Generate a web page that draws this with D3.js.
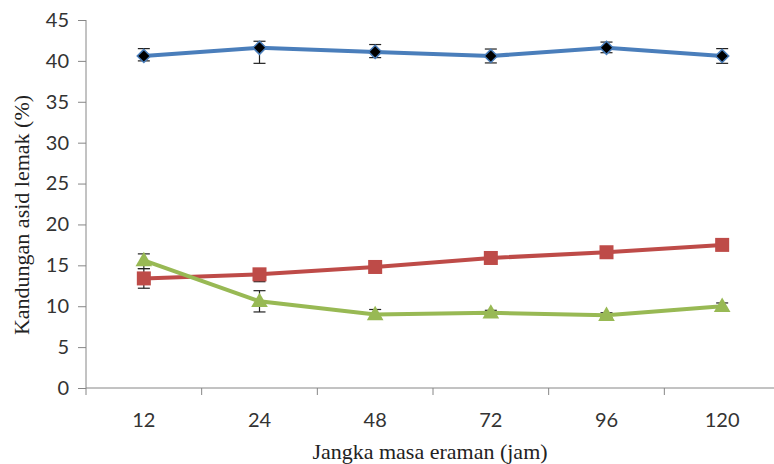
<!DOCTYPE html>
<html>
<head>
<meta charset="utf-8">
<script src="https://cdn.jsdelivr.net/npm/d3@7"></script>
<style>
  html, body { margin: 0; padding: 0; background: #fff; }
  svg { display: block; }
  .tick-label { font-family: Lato, "Open Sans", sans-serif; font-size: 20px; fill: #333; }
  .axis-title { font-family: "Times New Roman", "Liberation Serif", Tinos, "DejaVu Serif", "Noto Serif", serif; font-size: 22px; fill: #222; }
</style>
</head>
<body>
<svg id="chart" width="774" height="464"></svg>
<script>
// Incubation period categories (hours)
const categories = ["12", "24", "48", "72", "96", "120"];

// Fatty acid content (%) per series
const seriesA = [40.6, 41.6, 41.1, 40.6, 41.6, 40.6];
const seriesB = [13.4, 13.9, 14.8, 15.9, 16.6, 17.5];
const seriesC = [15.6, 10.6, 9.0, 9.2, 8.9, 10.0];

// Error amounts (upper / lower)
const errA_up = [0.9, 0.8, 0.9, 0.85, 0.7, 0.9];
const errA_dn = [0.6, 1.9, 0.7, 0.85, 0.6, 0.9];
const errB_up = [1.2, 0.3, 0.3, 0.3, 0.3, 0.3];
const errB_dn = [1.2, 0.9, 0.3, 0.3, 0.3, 0.3];
const errC_up = [0.8, 1.3, 0.6, 0.3, 0.3, 0.4];
const errC_dn = [1.0, 1.3, 0.4, 0.3, 0.3, 0.4];

const yTicks = [0, 5, 10, 15, 20, 25, 30, 35, 40, 45];

const svg = d3.select("#chart");
const plotLeft = 86, plotRight = 780, plotTop = 20, plotBottom = 388;

const x = d3.scaleBand().domain(categories).range([plotLeft, plotRight]);
const y = d3.scaleLinear().domain([0, 45]).range([plotBottom, plotTop]);
const cx = d => x(d) + x.bandwidth() / 2;

const axisColor = "#868686";

// Y axis
const yAxis = svg.append("g")
  .attr("transform", `translate(${plotLeft},0)`)
  .call(d3.axisLeft(y).tickValues(yTicks).tickSize(8).tickPadding(9).tickFormat(d3.format("d")));
yAxis.attr("font-family", null).attr("font-size", null);
yAxis.select(".domain").attr("stroke", axisColor).attr("d", `M0,${plotTop}V${plotBottom}`);
yAxis.selectAll(".tick line").attr("stroke", axisColor);
yAxis.selectAll(".tick text").attr("class", "tick-label").attr("fill", null);

// X axis: ticks at band boundaries, labels at band centres
const xg = svg.append("g").attr("transform", `translate(0,${plotBottom})`);
xg.append("line").attr("x1", plotLeft).attr("x2", plotRight).attr("y1", 0).attr("y2", 0)
  .attr("stroke", axisColor);
const bounds = categories.map(c => x(c)).concat([plotRight]);
xg.selectAll("line.tk").data(bounds).join("line")
  .attr("class", "tk")
  .attr("x1", d => d).attr("x2", d => d).attr("y1", 0).attr("y2", 7)
  .attr("stroke", axisColor);
xg.selectAll("text").data(categories).join("text")
  .attr("class", "tick-label")
  .attr("x", d => cx(d)).attr("y", 39)
  .attr("text-anchor", "middle")
  .text(d => d);

// Axis titles
svg.append("text")
  .attr("class", "axis-title")
  .attr("x", 430).attr("y", 459)
  .attr("text-anchor", "middle")
  .text("Jangka masa eraman (jam)");

svg.append("text")
  .attr("class", "axis-title")
  .attr("transform", "translate(29,215) rotate(-90)")
  .attr("text-anchor", "middle")
  .text("Kandungan asid lemak (%)");

const line = d3.line().x((d, i) => cx(categories[i])).y(d => y(d));

function errorBars(vals, up, dn) {
  const g = svg.append("g").attr("stroke", "#222").attr("stroke-width", 1.2);
  vals.forEach((v, i) => {
    const px = cx(categories[i]);
    const y1 = y(v + up[i]), y2 = y(v - dn[i]);
    g.append("line").attr("x1", px).attr("x2", px).attr("y1", y1).attr("y2", y2);
    g.append("line").attr("x1", px - 6).attr("x2", px + 6).attr("y1", y1).attr("y2", y1);
    g.append("line").attr("x1", px - 6).attr("x2", px + 6).attr("y1", y2).attr("y2", y2);
  });
}

// Series A (blue, diamond markers)
errorBars(seriesA, errA_up, errA_dn);
svg.append("path").datum(seriesA).attr("d", line)
  .attr("fill", "none").attr("stroke", "#4a7ebb").attr("stroke-width", 4);
svg.append("g").selectAll("path").data(seriesA).join("path")
  .attr("transform", (d, i) => `translate(${cx(categories[i])},${y(d)})`)
  .attr("d", d3.symbol(d3.symbolDiamond2, 110)())
  .attr("fill", "#000").attr("stroke", "#4a7ebb").attr("stroke-width", 1.5);

// Series B (red, square markers)
errorBars(seriesB, errB_up, errB_dn);
svg.append("path").datum(seriesB).attr("d", line)
  .attr("fill", "none").attr("stroke", "#be4b48").attr("stroke-width", 4);
svg.append("g").selectAll("rect").data(seriesB).join("rect")
  .attr("x", (d, i) => cx(categories[i]) - 7).attr("y", d => y(d) - 7)
  .attr("width", 14).attr("height", 14)
  .attr("fill", "#be4b48");

// Series C (green, triangle markers)
errorBars(seriesC, errC_up, errC_dn);
svg.append("path").datum(seriesC).attr("d", line)
  .attr("fill", "none").attr("stroke", "#98b954").attr("stroke-width", 4);
svg.append("g").selectAll("path").data(seriesC).join("path")
  .attr("transform", (d, i) => `translate(${cx(categories[i])},${y(d) + 1})`)
  .attr("d", d3.symbol(d3.symbolTriangle, 120)())
  .attr("fill", "#98b954");
</script>
</body>
</html>
